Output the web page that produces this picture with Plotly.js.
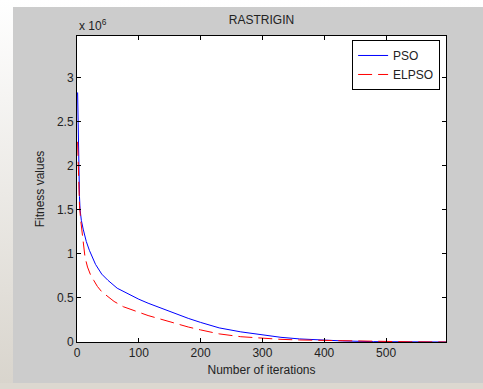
<!DOCTYPE html>
<html>
<head>
<meta charset="utf-8">
<script src="https://cdn.plot.ly/plotly-3.0.1.min.js"></script>
<style>
  html, body { margin: 0; padding: 0; width: 483px; height: 389px; overflow: hidden;
    background: linear-gradient(#ffffff, #d8d4cc); }
  #chart { position: absolute; left: 13px; top: 7px; width: 470px; height: 376px; }
  #strip { position: absolute; left: 0; top: 383px; width: 483px; height: 6px; background: #dcd8d0; }
</style>
</head>
<body>
<div id="chart"></div>
<div id="strip"></div>
<script>
// Fitness values in units of 1e6
const psoIter = [1, 2, 3, 4, 5, 7, 10, 15, 20, 25, 30, 40, 50, 65, 80, 90, 100, 115, 135, 150, 165, 180, 200, 230, 265, 300, 330, 360, 395, 430, 480, 540, 597];
const psoVals = [2.83, 2.3, 1.9, 1.65, 1.5, 1.38, 1.28, 1.14, 1.04, 0.95, 0.88, 0.77, 0.70, 0.61, 0.555, 0.515, 0.485, 0.44, 0.385, 0.345, 0.305, 0.268, 0.222, 0.16, 0.115, 0.077, 0.053, 0.035, 0.022, 0.012, 0.004, 0.001, 0.0];
const elpsoIter = [1, 2, 3, 4, 6, 8, 10, 13, 17, 22, 27, 33, 40, 50, 60, 75, 90, 100, 115, 135, 150, 165, 180, 200, 230, 265, 300, 330, 360, 395, 430, 480, 540, 597];
const elpsoVals = [2.27, 1.95, 1.72, 1.55, 1.38, 1.26, 1.1, 0.96, 0.85, 0.76, 0.70, 0.63, 0.57, 0.51, 0.46, 0.40, 0.36, 0.335, 0.30, 0.26, 0.23, 0.195, 0.17, 0.137, 0.092, 0.06, 0.04, 0.03, 0.023, 0.018, 0.012, 0.006, 0.002, 0.0];
const xTicks = [0, 100, 200, 300, 400, 500];
const yTicks = [0, 0.5, 1, 1.5, 2, 2.5, 3];
const yTickText = ["0", "0.5", "1", "1.5", "2", "2.5", "3"];

const font = {family: "Liberation Sans, Arial, sans-serif", size: 12, color: "#222"};

const traces = [
  {x: psoIter, y: psoVals, name: "PSO", mode: "lines",
   line: {color: "#0000ff", width: 1}},
  {x: elpsoIter, y: elpsoVals, name: "ELPSO", mode: "lines",
   line: {color: "#ff0000", width: 1, dash: "14px,6px"}}
];

const axisCommon = {
  showline: true, linecolor: "#000", linewidth: 1, mirror: "ticks",
  ticks: "inside", ticklen: 4, tickcolor: "#000", showgrid: false, zeroline: false,
  tickfont: font
};

const layout = {
  width: 470, height: 376,
  margin: {l: 64, r: 37, t: 29, b: 41},
  paper_bgcolor: "#cccccc", plot_bgcolor: "#ffffff",
  font: font,
  title: {text: "RASTRIGIN", font: font, x: 0.5, xref: "paper", y: 0.965, yref: "container", yanchor: "middle"},
  xaxis: Object.assign({}, axisCommon, {
    range: [0, 597], tickvals: xTicks,
    title: {text: "Number of iterations", font: font, standoff: 6}
  }),
  yaxis: Object.assign({}, axisCommon, {
    range: [0, 3.47], tickvals: yTicks, ticktext: yTickText,
    title: {text: "Fitness values", font: font, standoff: 9}
  }),
  legend: {
    x: 0.984, y: 0.987, xanchor: "right", yanchor: "top",
    bgcolor: "#ffffff", bordercolor: "#000", borderwidth: 1,
    font: font, tracegroupgap: 0, itemwidth: 30
  },
  annotations: [{
    text: "x 10<sup>6</sup>", xref: "paper", yref: "paper", x: 0, y: 1,
    xanchor: "left", yanchor: "bottom", showarrow: false, font: font, yshift: 1
  }],
  showlegend: true
};

Plotly.newPlot("chart", traces, layout, {displayModeBar: false, staticPlot: true});
</script>
</body>
</html>
